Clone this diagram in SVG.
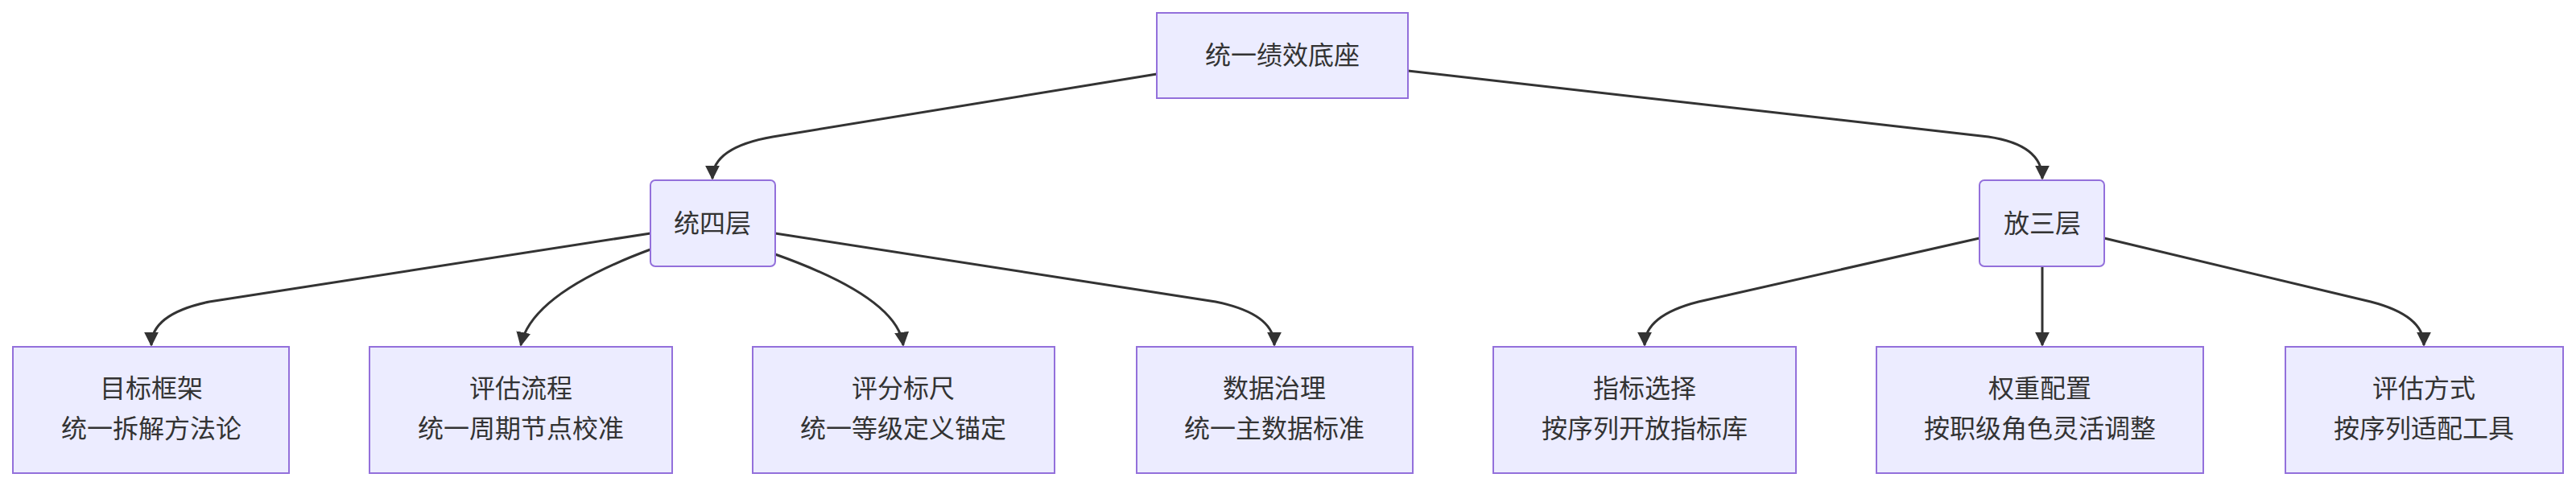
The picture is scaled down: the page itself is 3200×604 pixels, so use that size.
<svg xmlns="http://www.w3.org/2000/svg" width="3200" height="604" viewBox="0 0 3200 604">
<style>
.n{fill:#ECECFF;stroke:#9370DB;stroke-width:2}
.t{font-family:"Noto Sans CJK SC","Liberation Sans",sans-serif;font-size:32px;fill:#333;text-anchor:middle}
.e{fill:none;stroke:#333;stroke-width:3}
</style>
<defs><marker id="a" viewBox="0 0 10 10" refX="9" refY="5" markerWidth="6" markerHeight="6" orient="auto"><path d="M0,0L10,5L0,10z" fill="#333"/></marker></defs>
<rect width="3200" height="604" fill="#fff"/>
<g id="edges">
<path class="e" marker-end="url(#a)" d="M1437,92 L960,170 Q885,183 885,222"/>
<path class="e" marker-end="url(#a)" d="M1749,88 L2470,170 Q2537,180 2537,222"/>
<path class="e" marker-end="url(#a)" d="M808,290 L260,375 Q188,390 188,429"/>
<path class="e" marker-end="url(#a)" d="M808,310 Q660,365 647,429"/>
<path class="e" marker-end="url(#a)" d="M963,316 Q1115,370 1122,429"/>
<path class="e" marker-end="url(#a)" d="M963,290 L1510,375 Q1583,390 1583,429"/>
<path class="e" marker-end="url(#a)" d="M2459,296 L2110,375 Q2043,392 2043,429"/>
<path class="e" marker-end="url(#a)" d="M2537,331 L2537,429"/>
<path class="e" marker-end="url(#a)" d="M2614,296 L2945,375 Q3011,392 3011,429"/>
</g>
<g id="root"><rect class="n" x="1437" y="16" width="312" height="106"/><text class="t" x="1593" y="80">统一绩效底座</text></g>
<g id="l4"><rect class="n" x="808" y="224" width="155" height="107" rx="6"/><text class="t" x="885" y="289">统四层</text></g>
<g id="r3"><rect class="n" x="2459" y="224" width="155" height="107" rx="6"/><text class="t" x="2537" y="289">放三层</text></g>
<g id="c1"><rect class="n" x="16" y="431" width="343" height="157"/><text class="t" x="188" y="494">目标框架</text><text class="t" x="188" y="544">统一拆解方法论</text></g>
<g id="c2"><rect class="n" x="459" y="431" width="376" height="157"/><text class="t" x="647" y="494">评估流程</text><text class="t" x="647" y="544">统一周期节点校准</text></g>
<g id="c3"><rect class="n" x="935" y="431" width="375" height="157"/><text class="t" x="1122" y="494">评分标尺</text><text class="t" x="1122" y="544">统一等级定义锚定</text></g>
<g id="c4"><rect class="n" x="1412" y="431" width="343" height="157"/><text class="t" x="1583" y="494">数据治理</text><text class="t" x="1583" y="544">统一主数据标准</text></g>
<g id="c5"><rect class="n" x="1855" y="431" width="376" height="157"/><text class="t" x="2043" y="494">指标选择</text><text class="t" x="2043" y="544">按序列开放指标库</text></g>
<g id="c6"><rect class="n" x="2331" y="431" width="406" height="157"/><text class="t" x="2534" y="494">权重配置</text><text class="t" x="2534" y="544">按职级角色灵活调整</text></g>
<g id="c7"><rect class="n" x="2839" y="431" width="345" height="157"/><text class="t" x="3011" y="494">评估方式</text><text class="t" x="3011" y="544">按序列适配工具</text></g>
</svg>
